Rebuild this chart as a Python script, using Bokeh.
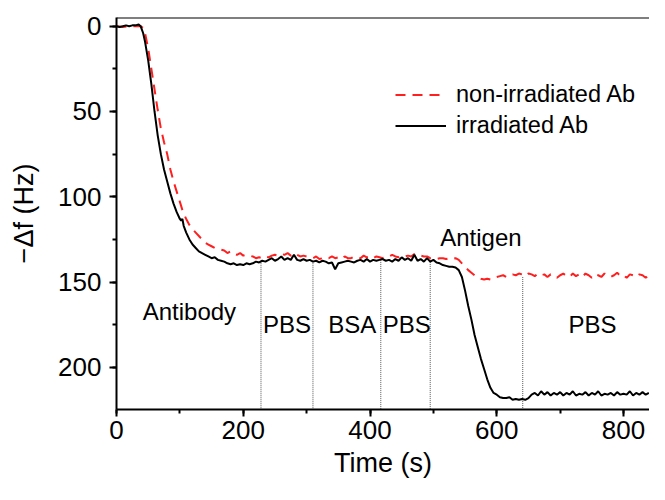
from bokeh.plotting import figure
from bokeh.models import (Range1d, SingleIntervalTicker, Legend, LegendItem, Span)
from bokeh.core.properties import value
from bokeh.embed import file_html
from bokeh.resources import INLINE

FONT = "Liberation Sans"

# irradiated Ab (black solid)
t_black = [0, 5, 10, 15, 20, 25, 30, 35, 38, 42, 45, 50, 55, 60, 65, 70, 75, 80, 85, 90,
           95, 100, 102, 104, 106, 110, 115, 120, 125, 130, 135, 140, 145, 150, 155, 160,
           165, 170, 175, 180, 185, 190, 195, 200, 205, 210, 215, 220, 225, 230, 235, 240,
           245, 250, 255, 260, 265, 270, 275, 280, 285, 290, 295, 300, 305, 310, 315, 320,
           325, 330, 335, 340, 345, 350, 355, 360, 365, 370, 375, 380, 385, 390, 395, 400,
           405, 410, 415, 420, 425, 430, 435, 440, 445, 450, 455, 460, 465, 470, 475, 480,
           485, 490, 495, 500, 505, 510, 515, 520, 525, 530, 535, 540, 545, 550, 555, 560,
           565, 570, 575, 580, 585, 590, 595, 600, 605, 610, 615, 620, 625, 630, 635, 640,
           645, 650, 655, 660, 665, 670, 675, 680, 685, 690, 695, 700, 705, 710, 715, 720,
           725, 730, 735, 740, 745, 750, 755, 760, 765, 770, 775, 780, 785, 790, 795, 800,
           805, 810, 815, 820, 825, 830, 835, 840]
df_black = [0, 0.5, 0, -0.5, 0, -0.5, -0.5, -1, 0, 4, 9, 20, 34, 50, 64, 75, 84, 91, 98, 104,
            109, 113, 114, 113, 117, 121, 125, 128, 130, 132, 133, 134, 135, 136, 135.5, 137,
            137.5, 138, 139, 139.5, 139, 140, 139.5, 140, 139, 139.5, 139, 138, 138.5, 137.5, 138, 137,
            136, 137.5, 136.5, 135, 137, 136, 137, 134, 137, 137.5, 136.5, 137.5, 137, 138, 137.5, 138.5,
            137.5, 138, 139, 138.5, 142.5, 139, 138.5, 138, 137.5, 138, 138.5, 137.5, 137, 138, 136.5, 138,
            137, 137.5, 137, 136.5, 137.5, 137, 138, 136.5, 137.5, 135.5, 137, 136, 137.5, 134, 137.5, 136.5,
            138, 136, 138, 137, 138.5, 139, 140, 140.5, 141, 141, 141.5, 143, 147, 155, 164, 172,
            181, 188, 195, 201, 207, 212, 215, 216, 217.5, 218, 218, 217.5, 219, 218.5, 219, 218.5,
            219, 218, 216, 215, 216.5, 214, 216, 214.5, 216.5, 215, 216, 214.5, 216.5, 215, 216, 214,
            216.5, 215.5, 216, 214.5, 216.5, 215, 216, 214, 216.5, 215.5, 216, 215, 216.5, 214.5, 216, 215.5,
            216, 214, 216.5, 215, 216, 214.5, 216, 215]

# non-irradiated Ab (red dashed)
t_red = [0, 10, 20, 30, 38, 42, 45, 50, 55, 60, 65, 70, 75, 80, 85, 90, 95, 100, 105, 110,
         115, 120, 125, 130, 135, 140, 145, 150, 155, 160, 165, 170, 175, 180, 185, 190, 195, 200,
         205, 210, 215, 220, 225, 230, 235, 240, 245, 250, 255, 260, 265, 270, 275, 280, 285, 290,
         295, 300, 305, 310, 315, 320, 325, 330, 335, 340, 345, 350, 355, 360, 365, 370, 375, 380,
         385, 390, 395, 400, 405, 410, 415, 420, 425, 430, 435, 440, 445, 450, 455, 460, 465, 470,
         475, 480, 485, 490, 495, 500, 505, 510, 515, 520, 525, 530, 535, 540, 545, 550, 555, 560,
         565, 570, 575, 580, 585, 590, 595, 600, 605, 610, 615, 620, 625, 630, 635, 640, 645, 650,
         655, 660, 665, 670, 675, 680, 685, 690, 695, 700, 705, 710, 715, 720, 725, 730, 735, 740,
         745, 750, 755, 760, 765, 770, 775, 780, 785, 790, 795, 800, 805, 810, 815, 820, 825, 830,
         835, 840]
df_red = [0, 0.5, 0, 0, 0, 1, 4, 13, 25, 37, 49, 60, 68, 75, 84, 91, 97, 103, 109, 113,
          116.5, 119, 121, 123, 125, 127, 128, 129, 130, 130.5, 131, 131.5, 133, 132, 133.5, 134, 133, 134.5,
          134, 134.5, 135, 136, 135.5, 136, 135, 135.5, 134.5, 134, 134.5, 133.5, 134, 133, 134.5, 133, 134, 135,
          134.5, 135, 135.5, 136, 135, 136.5, 136, 135.5, 136, 135, 136, 135.5, 136.5, 135, 136, 136, 135, 135.5,
          136, 134.5, 135.5, 135, 136, 135, 135.5, 136, 135, 135, 134, 135, 135.5, 134.5, 135, 134.5, 135, 133.5,
          134, 134.5, 135, 135, 136, 136, 136.5, 136, 136, 136.5, 136, 136.5, 136, 137, 139, 141, 143, 144.5,
          146, 147, 148, 148.5, 148, 148.5, 147.5, 147, 146.5, 146, 147, 146, 145.5, 146, 145, 145.5, 146.5, 145,
          145.5, 146.5, 145, 146, 145.5, 147, 145.5, 146, 147.5, 146, 145, 146.5, 147, 145, 146.5, 145.5, 147, 145,
          146, 147.5, 145.5, 146, 147, 145, 146.5, 147, 146, 144.5, 146.5, 146, 147.5, 145.5, 146, 147, 145.5, 146,
          147.5, 146]

# buffer-change markers (time, level where marker starts)
event_t = [228, 310, 417, 495, 641]
event_top = [137.5, 137.5, 137, 137, 147]

# stage labels
stage_text = ["Antibody", "PBS", "BSA", "PBS", "Antigen", "PBS"]
stage_x = [115, 269, 372, 458, 575, 751]
stage_y = [167.5, 175, 175, 175, 124, 175]

X_START, X_END = 0, 841
Y_BOTTOM, Y_TOP = 224.7, -5.1

p = figure(width=649, height=484, output_backend="svg", toolbar_location=None,
           x_range=Range1d(X_START, X_END), y_range=Range1d(Y_BOTTOM, Y_TOP),
           min_border_left=116, min_border_right=0, min_border_top=17, min_border_bottom=75)
p.outline_line_color = None
p.grid.visible = False
p.background_fill_color = "white"
p.border_fill_color = "white"

# top frame line
p.add_layout(Span(location=Y_TOP, dimension="width", line_color="black", line_width=2))

# vertical dotted markers
p.segment(x0=event_t, y0=event_top, x1=event_t, y1=[Y_BOTTOM] * len(event_t),
          line_color="#555555", line_width=1, line_dash="1 1")

r_red = p.line(t_red, df_red, line_color="#ff1f1f", line_width=2, line_dash="10 7")
r_black = p.line(t_black, df_black, line_color="black", line_width=2)

p.text(x=stage_x, y=stage_y, text=stage_text, text_align="center", text_baseline="middle",
       text_font=value(FONT), text_font_size="24px", text_color="black")

xt = SingleIntervalTicker(interval=200, num_minor_ticks=2)
yt = SingleIntervalTicker(interval=50, num_minor_ticks=2)

for ax, tk in ((p.xaxis[0], xt), (p.yaxis[0], yt)):
    ax.ticker = tk
    ax.axis_line_width = 2
    ax.axis_line_color = "black"
    ax.major_tick_line_width = 2
    ax.minor_tick_line_width = 2
    ax.major_tick_line_color = "black"
    ax.minor_tick_line_color = "black"
    ax.major_tick_out = 7
    ax.major_tick_in = 0
    ax.minor_tick_out = 4
    ax.minor_tick_in = 0
    ax.major_label_text_font = FONT
    ax.major_label_text_font_size = "26px"
    ax.major_label_text_color = "black"
    ax.axis_label_text_font = FONT
    ax.axis_label_text_font_size = "27px"
    ax.axis_label_text_font_style = "normal"
    ax.axis_label_text_color = "black"

p.xaxis.major_label_standoff = 4
p.xaxis.axis_label = "Time (s)"
p.xaxis.axis_label_standoff = 6
p.yaxis.major_label_standoff = 8
p.yaxis.axis_label = "\u2212\u0394f (Hz)"
p.yaxis.axis_label_standoff = 16

legend = Legend(items=[LegendItem(label="non-irradiated Ab", renderers=[r_red]),
                       LegendItem(label="irradiated Ab", renderers=[r_black])],
                location=(279, 268), padding=0, margin=0, spacing=0,
                glyph_width=51, glyph_height=31, label_height=31, label_standoff=10,
                label_text_font=FONT, label_text_font_size="23.5px", label_text_color="black",
                border_line_color=None, background_fill_alpha=0)
p.add_layout(legend)

open("out.html", "w").write(file_html(p, INLINE))
